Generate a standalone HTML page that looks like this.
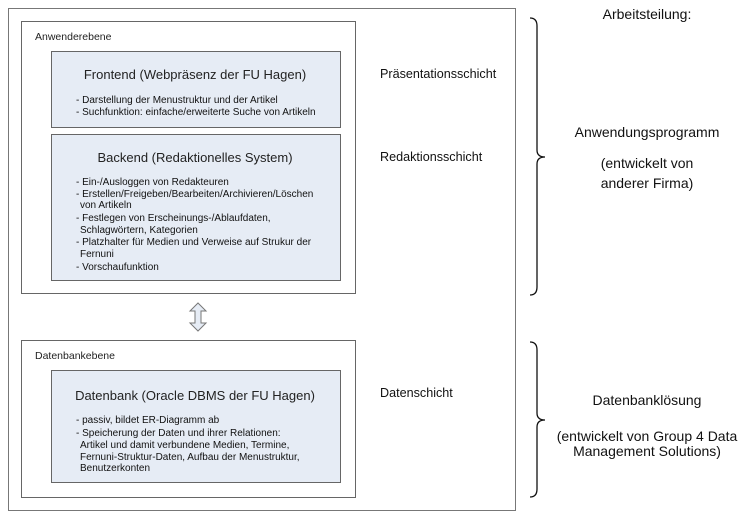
<!DOCTYPE html>
<html><head><meta charset="utf-8"><style>
html,body{margin:0;padding:0;background:#fff;}
svg{display:block;font-family:"Liberation Sans",Arial,sans-serif;}
</style></head><body>
<svg width="750" height="520" viewBox="0 0 750 520" xmlns="http://www.w3.org/2000/svg">
<rect x="8.5" y="8.5" width="507" height="502" fill="#fff" stroke="#777" stroke-width="1"/>
<rect x="21.5" y="21.5" width="334" height="272" fill="#fff" stroke="#666" stroke-width="1"/>
<rect x="51.5" y="51.5" width="289" height="76" fill="#e6ecf5" stroke="#666" stroke-width="1"/>
<rect x="51.5" y="134.5" width="289" height="146" fill="#e6ecf5" stroke="#666" stroke-width="1"/>
<rect x="21.5" y="340.5" width="334" height="157" fill="#fff" stroke="#666" stroke-width="1"/>
<rect x="51.5" y="370.5" width="289" height="112" fill="#e6ecf5" stroke="#666" stroke-width="1"/>
<path d="M198,303 L206,311 L201,311 L201,323 L206,323 L198,331 L190,323 L195,323 L195,311 L190,311 Z" fill="#e6ecf5" stroke="#777" stroke-width="1"/>
<g fill="#222" font-size="10.5">
<text x="35" y="40">Anwenderebene</text>
<text x="35" y="359">Datenbankebene</text>
</g>
<g fill="#222" font-size="13" text-anchor="middle">
<text x="195" y="79">Frontend (Webpräsenz der FU Hagen)</text>
<text x="195" y="162">Backend (Redaktionelles System)</text>
<text x="195" y="400">Datenbank (Oracle DBMS der FU Hagen)</text>
</g>
<g fill="#111" font-size="10">
<text x="76" y="103">- Darstellung der Menustruktur und der Artikel</text>
<text x="76" y="115">- Suchfunktion: einfache/erweiterte Suche von Artikeln</text>
<text x="76" y="185">- Ein-/Ausloggen von Redakteuren</text>
<text x="76" y="197">- Erstellen/Freigeben/Bearbeiten/Archivieren/Löschen</text>
<text x="80" y="208">von Artikeln</text>
<text x="76" y="221">- Festlegen von Erscheinungs-/Ablaufdaten,</text>
<text x="80" y="233">Schlagwörtern, Kategorien</text>
<text x="76" y="245">- Platzhalter für Medien und Verweise auf Strukur der</text>
<text x="80" y="257">Fernuni</text>
<text x="76" y="270">- Vorschaufunktion</text>
<text x="76" y="423">- passiv, bildet ER-Diagramm ab</text>
<text x="76" y="436">- Speicherung der Daten und ihrer Relationen:</text>
<text x="80" y="448">Artikel und damit verbundene Medien, Termine,</text>
<text x="80" y="460">Fernuni-Struktur-Daten, Aufbau der Menustruktur,</text>
<text x="80" y="471">Benutzerkonten</text>
</g>
<g fill="#111" font-size="12.6">
<text x="380" y="78">Präsentationsschicht</text>
<text x="380" y="161">Redaktionsschicht</text>
<text x="380" y="397">Datenschicht</text>
</g>
<g fill="none" stroke="#111" stroke-width="1.3">
<path d="M530,18 Q537,18 537,26 L537,150 Q537,157 545,157 Q537,157 537,164 L537,287 Q537,295 530,295"/>
<path d="M530,342 Q537,342 537,350 L537,413 Q537,420 545,420 Q537,420 537,427 L537,489 Q537,497 530,497"/>
</g>
<g fill="#111" font-size="14" text-anchor="middle">
<text x="647" y="19">Arbeitsteilung:</text>
<text x="647" y="137">Anwendungsprogramm</text>
<text x="647" y="168">(entwickelt von</text>
<text x="647" y="188">anderer Firma)</text>
<text x="647" y="405">Datenbanklösung</text>
<text x="647" y="441">(entwickelt von Group 4 Data</text>
<text x="647" y="456">Management Solutions)</text>
</g>
</svg>
</body></html>
